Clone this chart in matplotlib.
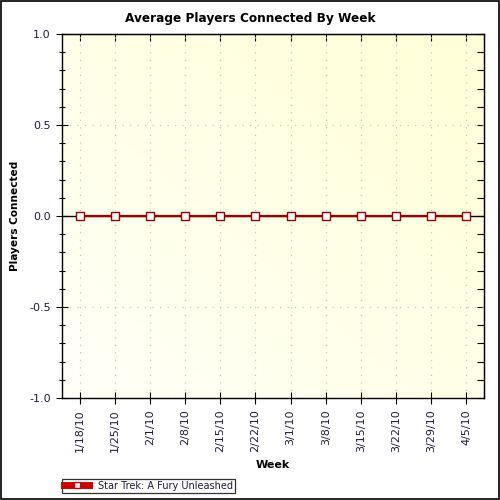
import matplotlib
matplotlib.use("Agg")
import matplotlib.pyplot as plt
import numpy as np
from matplotlib.ticker import MultipleLocator
from matplotlib.lines import Line2D

weeks = ["1/18/10", "1/25/10", "2/1/10", "2/8/10", "2/15/10", "2/22/10",
         "3/1/10", "3/8/10", "3/15/10", "3/22/10", "3/29/10", "4/5/10"]
players = [0, 0, 0, 0, 0, 0, 0, 0, 0, 0, 0, 0]
series_name = "Star Trek: A Fury Unleashed"

txt = "#1c1c3c"
plt.rcParams['font.family'] = ['DejaVu Sans']

fig = plt.figure(figsize=(5, 5), dpi=100)
fig.patch.set_facecolor("white")
fig.add_artist(plt.Rectangle((0.001, 0.003), 0.996, 0.995, transform=fig.transFigure,
                             fill=False, edgecolor="black", linewidth=1.2))

ax = fig.add_axes([0.124, 0.204, 0.844, 0.728])
x = np.arange(len(weeks))
ax.set_xlim(-0.5, len(weeks) - 0.5)
ax.set_ylim(-1.0, 1.0)

n = 200
gx, gy = np.meshgrid(np.linspace(0, 1, n), np.linspace(0, 1, n))
t = (gx + gy) / 2
c0 = np.array([1.0, 1.0, 0.975])
c1 = np.array([1.0, 1.0, 0.84])
img = c0[None, None, :] * (1 - t[..., None]) + c1[None, None, :] * t[..., None]
ax.imshow(img, extent=[-0.5, len(weeks) - 0.5, -1.0, 1.0], origin="lower",
          aspect="auto", zorder=0, interpolation="bilinear")

ax.grid(True, which="major", linestyle=(0, (1, 5)), color="#c4c4c4", linewidth=0.9)
ax.axhline(0, color="black", linewidth=1.0, zorder=2)
ax.plot(x, players, color="#a00000", linewidth=1.6, zorder=3,
        marker="s", markersize=5.5, markerfacecolor="white",
        markeredgecolor="#990000", markeredgewidth=1.0)

ax.set_xticks(x)
ax.set_xticklabels(weeks, rotation=90, fontsize=8, color=txt)
ax.yaxis.set_major_locator(MultipleLocator(0.5))
ax.yaxis.set_minor_locator(MultipleLocator(0.1))
ax.set_yticklabels([f"{v:.1f}" for v in ax.get_yticks()], fontsize=8, color=txt)
ax.tick_params(axis="both", which="major", direction="inout", length=9, width=0.8)
ax.tick_params(axis="y", which="minor", direction="inout", length=4, width=0.8)
for s in ax.spines.values():
    s.set_linewidth(1.0)
    s.set_color("black")

sy = ax.secondary_yaxis("right")
sy.yaxis.set_major_locator(MultipleLocator(0.5))
sy.yaxis.set_minor_locator(MultipleLocator(0.1))
sy.tick_params(which="both", direction="in", length=5, width=0.8, labelright=False)
sx = ax.secondary_xaxis("top")
sx.set_xticks(x)
sx.tick_params(direction="in", length=5, width=0.8, labeltop=False)

fig.suptitle("Average Players Connected By Week", fontsize=8.7, fontweight="bold",
             x=0.5, y=0.976, va="top")
ax.set_xlabel("Week", fontsize=8, fontweight="bold", labelpad=6)
ax.set_ylabel("Players Connected", fontsize=7.6, fontweight="bold")
ax.yaxis.set_label_coords(-0.1, 0.5)

handle = Line2D([0], [0], color="#cc0000", linewidth=5, marker="s", markersize=5,
                markerfacecolor="white", markeredgecolor="#cc0000")
leg = fig.legend([handle], [series_name], loc="lower left",
                 bbox_to_anchor=(0.124, 0.015), fontsize=7, frameon=True,
                 fancybox=False, edgecolor="black", handlelength=2.6,
                 borderpad=0.2, handletextpad=0.9, borderaxespad=0)
leg.get_frame().set_linewidth(0.9)
for t_ in leg.get_texts():
    t_.set_color(txt)

fig.savefig("out.png", dpi=100)
